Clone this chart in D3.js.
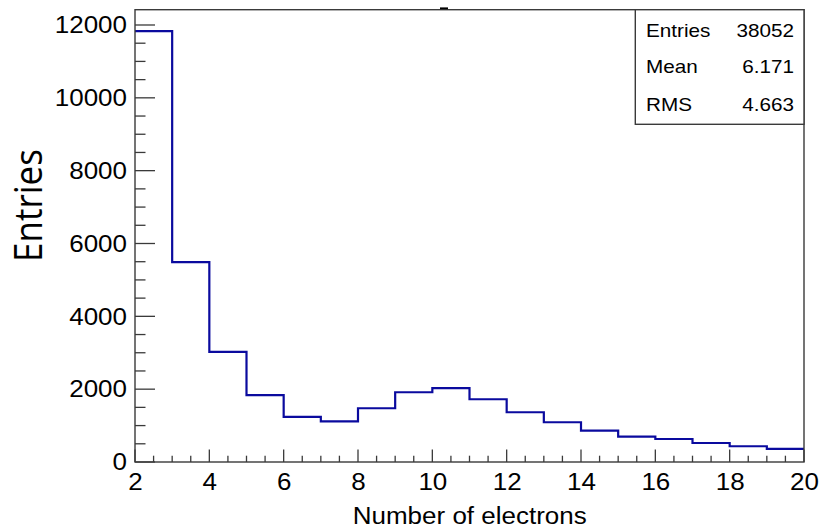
<!DOCTYPE html>
<html><head><meta charset="utf-8">
<script src="https://cdn.jsdelivr.net/npm/d3@7"></script>
<style>body{margin:0;background:#fff}svg{display:block}</style>
</head><body>
<svg id="c" width="821" height="529"></svg>
<script>
const binLow = [2,3,4,5,6,7,8,9,10,11,12,13,14,15,16,17,18,19];
const counts = [11830,5490,3025,1835,1238,1118,1476,1915,2026,1723,1366,1091,862,697,632,522,432,358];
const xTicks = [2,4,6,8,10,12,14,16,18,20];
const yTicks = [0,2000,4000,6000,8000,10000,12000];
const statLabels = ["Entries","Mean","RMS"];
const statValues = ["38052","6.171","4.663"];

const svg = d3.select("#c");
const L=135, R=804, T=9.7, B=462;
const x = d3.scaleLinear().domain([2,20]).range([L,R]);
const y = d3.scaleLinear().domain([0,12420]).range([B,T]);
const helv = "'Liberation Sans', Arial, Helvetica, sans-serif";
const frameCol = "#3a3a3a";

function stext(g, tx, ty, str, size, sx, anchor, family){
  return g.append("text").attr("transform",`translate(${tx},${ty}) scale(${sx},1)`)
    .attr("text-anchor",anchor).attr("font-family",family||helv).attr("font-size",size)
    .attr("fill","#000").text(str);
}

// histogram step path
const pts = [];
binLow.forEach((b,i)=>{ pts.push([x(b),y(counts[i])]); pts.push([x(b+1),y(counts[i])]); });
svg.append("path").attr("d", d3.line()(pts)).attr("fill","none")
  .attr("stroke","#0a0a9e").attr("stroke-width",2.2);

// y axis ticks
const gy = svg.append("g");
const yMinor = d3.range(0,12420,500);
yMinor.forEach(v=>{
  const major = v%2000===0;
  gy.append("line").attr("x1",L).attr("x2",L+(major?20:10.5)).attr("y1",y(v)).attr("y2",y(v))
    .attr("stroke",frameCol).attr("stroke-width",1.3);
});
yTicks.forEach(v=>{ stext(gy, 127, y(v)+8.3, String(v), 23, 1.13, "end"); });

// x axis ticks
const gx = svg.append("g");
d3.range(2,20.001,0.5).forEach(v=>{
  const major = Math.abs(v%2)<1e-9;
  gx.append("line").attr("x1",x(v)).attr("x2",x(v)).attr("y1",B).attr("y2",B-(major?12.5:6.3))
    .attr("stroke",frameCol).attr("stroke-width",1.3);
});
xTicks.forEach(v=>{ stext(gx, x(v)+0.5, 490, String(v), 23, 1.13, "middle"); });

// frame
svg.append("rect").attr("x",L).attr("y",T).attr("width",R-L).attr("height",B-T)
  .attr("fill","none").attr("stroke",frameCol).attr("stroke-width",1.4);

// small title placeholder dash
svg.append("line").attr("x1",440).attr("x2",448).attr("y1",8.3).attr("y2",8.3)
  .attr("stroke","#000").attr("stroke-width",1.8);

// axis titles
stext(svg, 586.7, 523.5, "Number of electrons", 23, 1.13, "end");
svg.append("text").attr("transform","translate(42,205.5) rotate(-90) scale(1,1.08)")
  .attr("text-anchor","middle").attr("font-family","'Open Sans', sans-serif")
  .attr("font-size",35).attr("fill","#000").text("Entries");

// stats box
const sb = svg.append("g");
sb.append("rect").attr("x",635.3).attr("y",T).attr("width",R-635.3).attr("height",124.3-T)
  .attr("fill","#fff").attr("stroke",frameCol).attr("stroke-width",1.4);
const rowBase = [36.7,73.3,110.7];
statLabels.forEach((s,i)=>{
  stext(sb, 646, rowBase[i], s, 18, 1.15, "start");
  stext(sb, 794, rowBase[i], statValues[i], 18, 1.15, "end");
});
</script>
</body></html>
